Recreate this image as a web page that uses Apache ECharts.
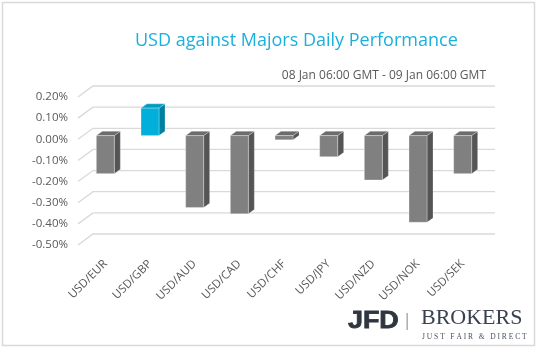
<!DOCTYPE html>
<html>
<head>
<meta charset="utf-8">
<script src="https://cdn.jsdelivr.net/npm/echarts@6/dist/echarts.min.js"></script>
<style>
  html, body { margin: 0; padding: 0; background: #fff; }
  #chart { width: 538px; height: 351px; }
</style>
</head>
<body>
<div id="chart"></div>
<script>
const pairs = ["USD/EUR", "USD/GBP", "USD/AUD", "USD/CAD", "USD/CHF", "USD/JPY", "USD/NZD", "USD/NOK", "USD/SEK"];
const changes = [-0.18, 0.13, -0.34, -0.37, -0.02, -0.10, -0.21, -0.41, -0.18];
const yTicks = [0.2, 0.1, 0, -0.1, -0.2, -0.3, -0.4, -0.5];

// perspective offsets (px): bar plane and back wall relative to the front plane
const barShift = [5, -3.7];
const backShift = [15, -11];
const depth = [6, -4.3];

const chart = echarts.init(document.getElementById("chart"));

const barColors = (v) => v > 0
  ? { front: "#00b0da", side: "#00809e", top: "#009cc0" }
  : { front: "#808080", side: "#555555", top: "#6c6c6c" };

const renderBar = (params, api) => {
  const idx = api.value(0);
  const v = api.value(1);
  const zero = api.coord([idx, 0]);
  const end = api.coord([idx, v]);
  const w = 18;
  const x0 = zero[0] + barShift[0] - w / 2;
  const x1 = x0 + w;
  const yTop = Math.min(zero[1], end[1]) + barShift[1];
  const yBot = Math.max(zero[1], end[1]) + barShift[1];
  const c = barColors(v);
  const dx = depth[0], dy = depth[1];
  return {
    type: "group",
    children: [
      {
        type: "polygon",
        shape: { points: [[x1, yTop], [x1 + dx, yTop + dy], [x1 + dx, yBot + dy], [x1, yBot]] },
        style: { fill: c.side, stroke: "rgba(255,255,255,0.5)", lineWidth: 0.5 }
      },
      {
        type: "polygon",
        shape: { points: [[x0, yTop], [x0 + dx, yTop + dy], [x1 + dx, yTop + dy], [x1, yTop]] },
        style: { fill: c.top, stroke: "rgba(255,255,255,0.5)", lineWidth: 0.5 }
      },
      {
        type: "rect",
        shape: { x: x0, y: yTop, width: w, height: yBot - yTop },
        style: { fill: c.front, stroke: "rgba(255,255,255,0.6)", lineWidth: 0.5 }
      }
    ]
  };
};

// tick lines: short diagonal on the floor side, then flat along the back wall
const renderGridLine = (params, api) => {
  const v = api.value(0);
  const y = api.coord([0, v])[1];
  const xl = params.coordSys.x;
  const xr = params.coordSys.x + params.coordSys.width;
  return {
    type: "polyline",
    shape: {
      points: [
        [xl, y],
        [xl + backShift[0], y + backShift[1]],
        [xr + backShift[0], y + backShift[1]]
      ]
    },
    style: { fill: null, stroke: "#d9d9d9", lineWidth: 1.3 },
    silent: true
  };
};

const option = {
  animation: false,
  backgroundColor: "#ffffff",
  textStyle: { fontFamily: "Open Sans" },
  title: [
    {
      text: "USD against Majors Daily Performance",
      left: 130,
      top: 27,
      textStyle: { color: "#1bb0dc", fontSize: 18, fontWeight: "normal", fontFamily: "Open Sans" }
    },
    {
      text: "08 Jan 06:00 GMT - 09 Jan 06:00 GMT",
      right: 47,
      top: 65,
      textStyle: { color: "#595959", fontSize: 12, fontWeight: "normal", fontFamily: "Open Sans" }
    }
  ],
  grid: [
    { left: 78, width: 402, top: 97, height: 148 },
    { left: 83, width: 402, top: 97, height: 148 }
  ],
  xAxis: [
    {
      type: "category",
      data: pairs,
      axisLine: { show: false },
      axisTick: { show: false },
      axisLabel: { show: false }
    },
    {
      type: "category",
      gridIndex: 1,
      data: pairs,
      axisLine: { show: false },
      axisTick: { show: false },
      axisLabel: { rotate: 45, color: "#595959", fontSize: 11.5, margin: 17, interval: 0 }
    }
  ],
  yAxis: [
    {
      type: "value",
      min: -0.5,
      max: 0.2,
      interval: 0.1,
      axisLine: { show: false },
      axisTick: { show: false },
      splitLine: { show: false },
      axisLabel: {
        color: "#595959",
        fontSize: 11.5,
        margin: 10,
        formatter: (v) => v.toFixed(2) + "%"
      }
    },
    {
      type: "value",
      gridIndex: 1,
      min: -0.5,
      max: 0.2,
      show: false
    }
  ],
  series: [
    {
      type: "custom",
      renderItem: renderGridLine,
      data: yTicks.map((t) => [t]),
      encode: { y: 0 },
      z: 1,
      silent: true
    },
    {
      type: "custom",
      renderItem: renderBar,
      data: changes.map((v, i) => [i, v]),
      encode: { x: 0, y: 1 },
      z: 2
    }
  ],
  graphic: [
    {
      type: "rect",
      shape: { x: 2.5, y: 2.5, width: 532, height: 343 },
      style: { fill: null, stroke: "#d9d9d9", lineWidth: 1.5 },
      silent: true
    },
    {
      type: "text",
      x: 348,
      y: 309,
      scaleX: 1.12,
      style: {
        text: "JFD",
        fill: "#2f3640",
        stroke: "#2f3640",
        lineWidth: 0.8,
        font: "bold 24px 'Liberation Sans', sans-serif"
      }
    },
    {
      type: "rect",
      shape: { x: 406.5, y: 313, width: 1.3, height: 17 },
      style: { fill: "#9a9fa6" }
    },
    {
      type: "text",
      left: 421,
      top: 307,
      style: { text: "BROKERS", fill: "#3a4250", font: "22px 'Liberation Serif', serif" }
    },
    {
      type: "text",
      left: 422,
      top: 333,
      style: { text: "J U S T   F A I R   &   D I R E C T", fill: "#4a5260", font: "7.5px 'Liberation Serif', serif" }
    }
  ]
};

chart.setOption(option);
</script>
</body>
</html>
